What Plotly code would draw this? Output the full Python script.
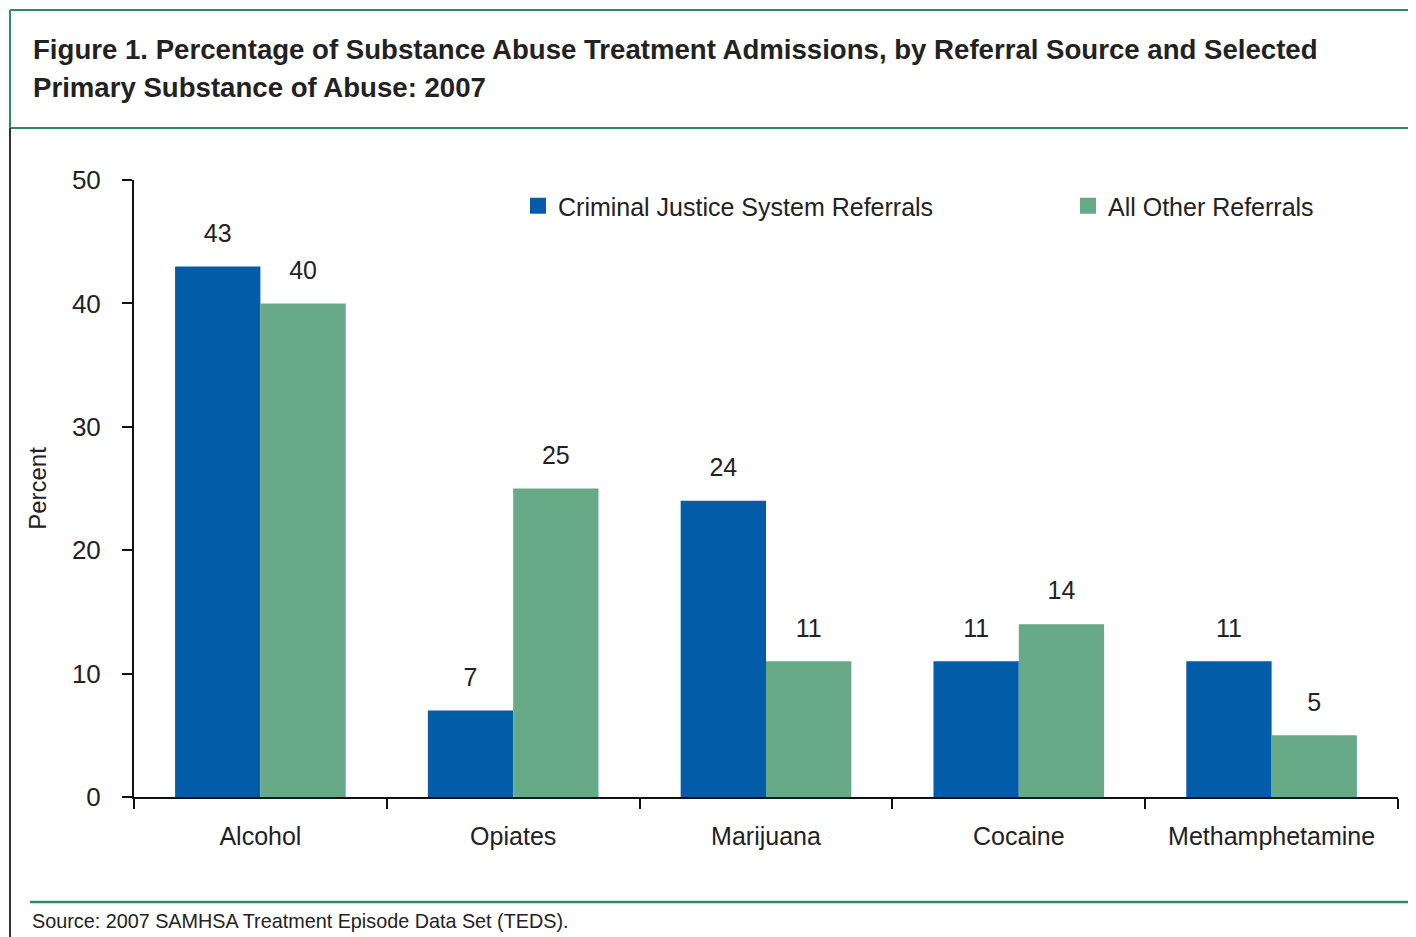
import plotly.graph_objects as go

categories = ["Alcohol", "Opiates", "Marijuana", "Cocaine", "Methamphetamine"]
criminal_justice = [43, 7, 24, 11, 11]
all_other = [40, 25, 11, 14, 5]
series_names = ["Criminal Justice System Referrals", "All Other Referrals"]
y_ticks = [0, 10, 20, 30, 40, 50]

BLUE = "#035ca8"
GREEN = "#67aa88"
FRAME = "#2f8a5c"
FONT = "Liberation Sans, Arial, sans-serif"
TXT = "#222"
BARGAP = 0.325

# plot area in page pixels: x 134..1398, y 180..797 ; page body offset of 8px
OFF = 8
PX0, PX1, PY0, PY1 = 134, 1398, 180, 797
W, H = 1416 - OFF, 937 - OFF


def px(x):
    return (x - PX0) / (PX1 - PX0)


def py(y):
    return (PY1 - y) / (PY1 - PY0)


fig = go.Figure()
for name, vals, col, grp in [(series_names[0], criminal_justice, BLUE, "a"),
                             (series_names[1], all_other, GREEN, "b")]:
    fig.add_trace(go.Bar(x=categories, y=vals, name=name, marker=dict(color=col, line=dict(width=0)),
                         offsetgroup=grp, showlegend=False, hoverinfo="skip"))
for vals, grp in [(criminal_justice, "a"), (all_other, "b")]:
    fig.add_trace(go.Scatter(x=categories, y=vals, mode="markers+text", text=[str(v) for v in vals],
                             textposition="top center", offsetgroup=grp,
                             marker=dict(size=28, color="rgba(0,0,0,0)"),
                             textfont=dict(size=25, color=TXT, family=FONT),
                             showlegend=False, hoverinfo="skip", cliponaxis=False))
# legend entries
for name, col, lg in [(series_names[0], BLUE, "legend"), (series_names[1], GREEN, "legend2")]:
    fig.add_trace(go.Scatter(x=[None], y=[None], mode="markers", name=name, legend=lg,
                             marker=dict(symbol="square", size=16, color=col)))

legend_common = dict(orientation="h", xanchor="left", y=py(206), yanchor="middle",
                     font=dict(size=25, color=TXT, family=FONT), itemwidth=30,
                     bgcolor="rgba(0,0,0,0)")
fig.update_layout(
    width=W, height=H,
    margin=dict(l=PX0 - OFF, r=1416 - PX1, t=PY0 - OFF, b=937 - PY1),
    paper_bgcolor="white", plot_bgcolor="white",
    barmode="group", bargap=BARGAP, bargroupgap=0,
    scattermode="group", scattergap=BARGAP,
    font=dict(family=FONT, size=24, color=TXT),
    showlegend=True,
    legend=dict(x=px(518), **legend_common),
    legend2=dict(x=px(1068), **legend_common),
)
fig.update_xaxes(showline=True, linecolor="#111", linewidth=2, ticks="outside", tickson="boundaries",
                 ticklen=10, tickwidth=2, tickcolor="#111", showgrid=False, zeroline=False,
                 tickfont=dict(size=25, color=TXT), ticklabelstandoff=16)
fig.update_yaxes(range=[0, 50], tickvals=y_ticks, showline=True, linecolor="#111", linewidth=2,
                 ticks="outside", ticklen=10, tickwidth=2, tickcolor="#111", showgrid=False,
                 zeroline=False, tickfont=dict(size=26, color=TXT), ticklabelstandoff=16,
                 title=dict(text="Percent", font=dict(size=24, color=TXT), standoff=18))

# frame and title
LEFT = 10
shapes = [
    dict(type="line", xref="paper", yref="paper", x0=px(LEFT), x1=px(1420), y0=py(10), y1=py(10),
         line=dict(color=FRAME, width=2)),
    dict(type="line", xref="paper", yref="paper", x0=px(LEFT), x1=px(1420), y0=py(128), y1=py(128),
         line=dict(color=FRAME, width=2)),
    dict(type="line", xref="paper", yref="paper", x0=px(LEFT), x1=px(LEFT), y0=py(10), y1=py(130),
         line=dict(color=FRAME, width=2)),
    dict(type="line", xref="paper", yref="paper", x0=px(LEFT), x1=px(LEFT), y0=py(128), y1=py(940),
         line=dict(color="#333", width=2)),
    dict(type="line", xref="paper", yref="paper", x0=px(30), x1=px(1410), y0=py(902), y1=py(902),
         line=dict(color=FRAME, width=2.5)),
]
fig.update_layout(shapes=shapes)
fig.add_annotation(text="<b>Figure 1. Percentage of Substance Abuse Treatment Admissions, by Referral Source and Selected</b>",
                   xref="paper", yref="paper", x=px(31), y=py(49), xanchor="left", yanchor="middle",
                   showarrow=False, font=dict(size=27.6, color=TXT, family=FONT))
fig.add_annotation(text="<b>Primary Substance of Abuse: 2007</b>",
                   xref="paper", yref="paper", x=px(31), y=py(87), xanchor="left", yanchor="middle",
                   showarrow=False, font=dict(size=27.6, color=TXT, family=FONT))
fig.add_annotation(text="Source: 2007 SAMHSA Treatment Episode Data Set (TEDS).",
                   xref="paper", yref="paper", x=px(30), y=py(921), xanchor="left", yanchor="middle",
                   showarrow=False, font=dict(size=19.8, color=TXT, family=FONT))

fig.write_html("out.html")
